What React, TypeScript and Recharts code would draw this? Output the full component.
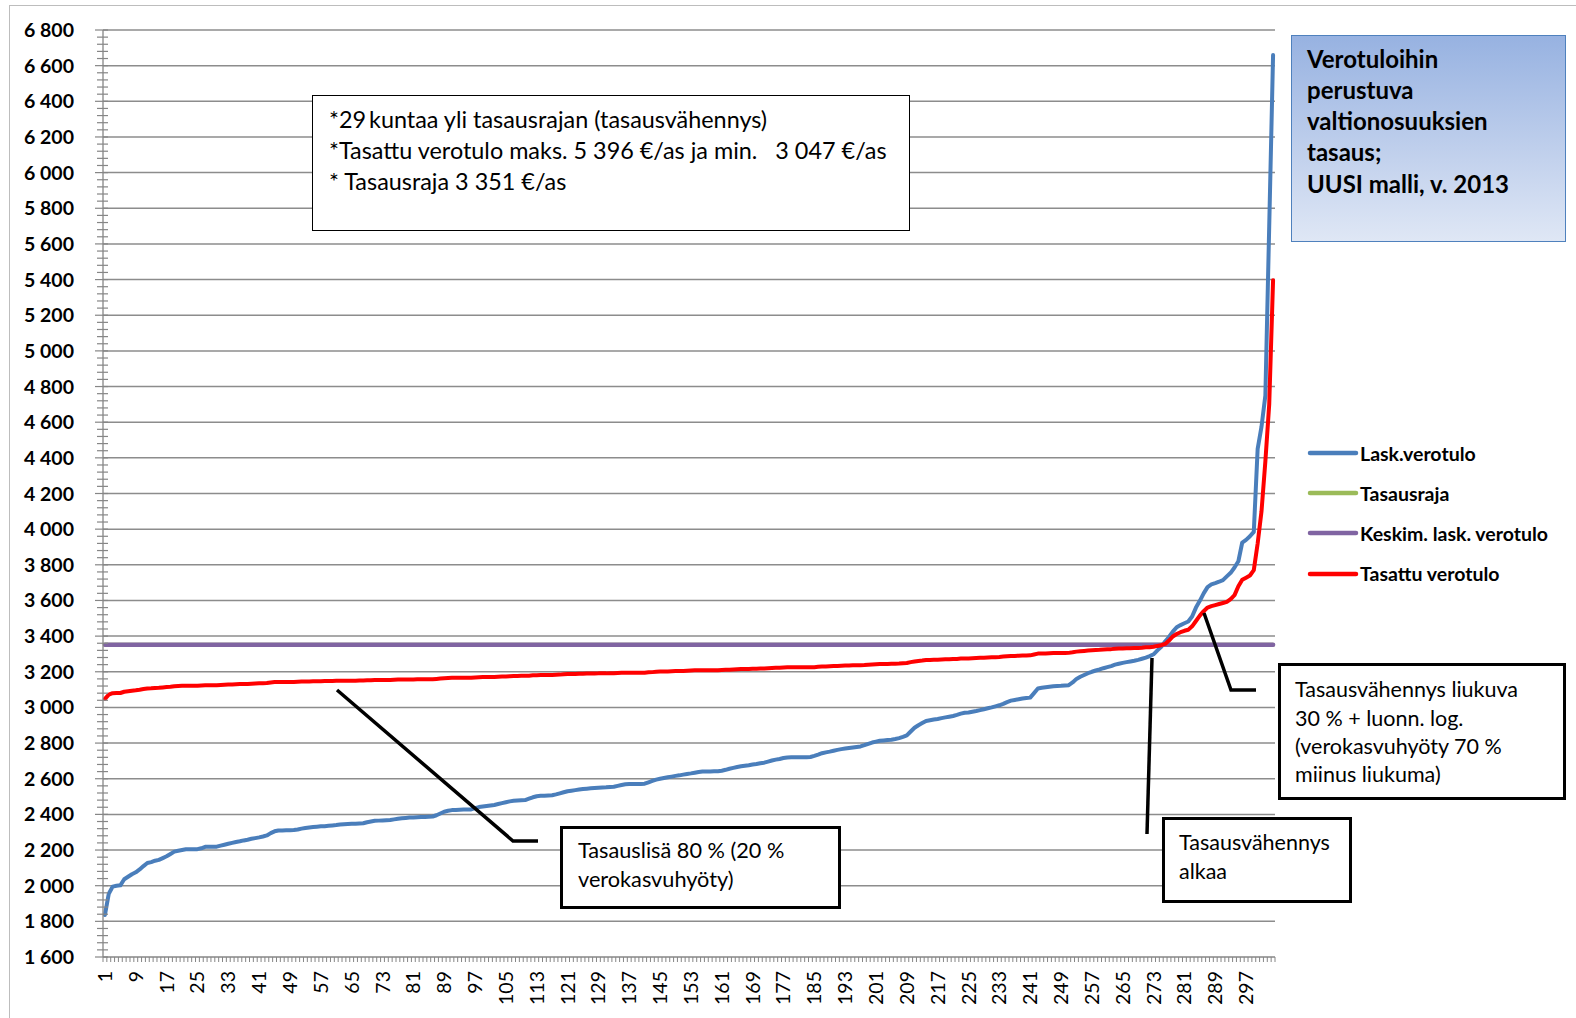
import React from 'react';
import { LineChart, Line, XAxis, YAxis, ReferenceLine } from 'recharts';

// ---------- data ----------
const CATEGORIES: number[] = Array.from({ length: 304 }, (_, i) => i + 1);

const LASK_VEROTULO: number[] = [
  1836, 1955, 1995, 2000, 2002, 2036, 2050, 2064, 2075, 2091,
  2110, 2127, 2132, 2140, 2145, 2155, 2165, 2178, 2191, 2196,
  2200, 2204, 2204, 2205, 2205, 2210, 2218, 2218, 2219, 2219,
  2225, 2230, 2235, 2240, 2245, 2249, 2254, 2258, 2263, 2267,
  2271, 2276, 2282, 2295, 2305, 2310, 2310, 2311, 2311, 2312,
  2315, 2320, 2324, 2327, 2329, 2331, 2333, 2334, 2336, 2338,
  2340, 2343, 2345, 2346, 2347, 2348, 2349, 2350, 2356, 2360,
  2364, 2365, 2366, 2367, 2368, 2372, 2375, 2378, 2380, 2382,
  2383, 2384, 2385, 2386, 2387, 2388, 2395, 2405, 2415, 2420,
  2424, 2425, 2426, 2427, 2428, 2428, 2435, 2441, 2444, 2447,
  2450, 2453, 2458, 2463, 2468, 2473, 2476, 2478, 2479, 2480,
  2488, 2496, 2502, 2504, 2505, 2506, 2507, 2512, 2518, 2524,
  2530, 2533, 2536, 2539, 2542, 2544, 2546, 2548, 2550, 2551,
  2552, 2554, 2555, 2560, 2565, 2569, 2570, 2570, 2571, 2571,
  2572, 2580, 2588, 2595, 2600, 2604, 2608, 2612, 2616, 2619,
  2623, 2627, 2630, 2634, 2638, 2641, 2641, 2641, 2642, 2642,
  2645, 2650, 2656, 2661, 2666, 2670, 2673, 2676, 2680, 2683,
  2687, 2690, 2696, 2702, 2707, 2711, 2716, 2719, 2720, 2720,
  2720, 2721, 2721, 2722, 2728, 2735, 2743, 2748, 2752, 2757,
  2762, 2766, 2769, 2772, 2775, 2778, 2781, 2788, 2796, 2803,
  2808, 2813, 2815, 2817, 2819, 2823, 2828, 2835, 2843, 2865,
  2886, 2900, 2912, 2924, 2928, 2932, 2935, 2940, 2944, 2948,
  2952, 2958, 2965, 2970, 2972, 2976, 2980, 2985, 2990, 2995,
  3000, 3006, 3012, 3020, 3030, 3038, 3042, 3046, 3050, 3053,
  3055, 3080, 3106, 3110, 3113, 3116, 3119, 3120, 3121, 3123,
  3125, 3140, 3160, 3172, 3182, 3192, 3200, 3207, 3213, 3220,
  3226, 3232, 3240, 3245, 3250, 3254, 3258, 3262, 3267, 3273,
  3279, 3288, 3298, 3320, 3340, 3370, 3395, 3425, 3450, 3462,
  3472, 3482, 3510, 3560, 3598, 3640, 3675, 3690, 3697, 3705,
  3714, 3735, 3755, 3785, 3820, 3925, 3940, 3960, 3985, 4450,
  4575, 4750, 5700, 6660,
];

const TASATTU_VEROTULO: number[] = [
  3048, 3072, 3080, 3081, 3081, 3088, 3091, 3094, 3096, 3099,
  3103, 3106, 3107, 3109, 3110, 3112, 3114, 3116, 3119, 3120,
  3121, 3122, 3122, 3122, 3122, 3123, 3124, 3124, 3125, 3125,
  3126, 3127, 3128, 3129, 3130, 3131, 3132, 3132, 3133, 3134,
  3135, 3136, 3137, 3140, 3142, 3143, 3143, 3143, 3143, 3143,
  3144, 3145, 3146, 3146, 3147, 3147, 3147, 3148, 3148, 3148,
  3149, 3149, 3150, 3150, 3150, 3150, 3151, 3151, 3152, 3153,
  3154, 3154, 3154, 3154, 3154, 3155, 3156, 3156, 3157, 3157,
  3157, 3158, 3158, 3158, 3158, 3158, 3160, 3162, 3164, 3165,
  3166, 3166, 3166, 3166, 3166, 3166, 3168, 3169, 3170, 3170,
  3171, 3171, 3172, 3173, 3174, 3175, 3176, 3176, 3177, 3177,
  3178, 3180, 3181, 3182, 3182, 3182, 3182, 3183, 3184, 3186,
  3187, 3187, 3188, 3189, 3189, 3190, 3190, 3190, 3191, 3191,
  3191, 3192, 3192, 3193, 3194, 3195, 3195, 3195, 3195, 3195,
  3195, 3197, 3198, 3200, 3201, 3202, 3202, 3203, 3204, 3205,
  3205, 3206, 3207, 3208, 3208, 3209, 3209, 3209, 3209, 3209,
  3210, 3211, 3212, 3213, 3214, 3215, 3215, 3216, 3217, 3217,
  3218, 3219, 3220, 3221, 3222, 3223, 3224, 3225, 3225, 3225,
  3225, 3225, 3225, 3225, 3226, 3228, 3229, 3230, 3231, 3232,
  3233, 3234, 3235, 3235, 3236, 3236, 3237, 3238, 3240, 3241,
  3242, 3243, 3244, 3244, 3245, 3245, 3246, 3248, 3249, 3254,
  3258, 3261, 3263, 3266, 3266, 3267, 3268, 3269, 3270, 3270,
  3271, 3272, 3274, 3275, 3275, 3276, 3277, 3278, 3279, 3280,
  3281, 3282, 3283, 3285, 3287, 3288, 3289, 3290, 3291, 3291,
  3292, 3297, 3302, 3303, 3303, 3304, 3305, 3305, 3305, 3305,
  3306, 3309, 3313, 3315, 3317, 3319, 3321, 3322, 3323, 3325,
  3326, 3327, 3329, 3330, 3331, 3332, 3332, 3333, 3334, 3335,
  3337, 3338, 3340, 3345, 3349, 3356, 3375, 3398, 3412, 3422,
  3430, 3436, 3455, 3485, 3515, 3540, 3560, 3568, 3574, 3580,
  3586, 3592, 3608, 3630, 3680, 3716, 3728, 3740, 3770, 3920,
  4100, 4380, 4700, 5396,
];

const TASAUSRAJA = 3351;
const KESKIM_LASK_VEROTULO = 3351;

const Y_MAJOR_TICKS: number[] = [
  1600, 1800, 2000, 2200, 2400, 2600, 2800, 3000, 3200, 3400, 3600, 3800, 4000, 4200,
  4400, 4600, 4800, 5000, 5200, 5400, 5600, 5800, 6000, 6200, 6400, 6600, 6800,
];
const Y_MINOR_STEP = 40;
const X_LABEL_EVERY = 8;

const SERIES = [
  { key: 'lask', name: 'Lask.verotulo', color: '#4A7EBB' },
  { key: 'raja', name: 'Tasausraja', color: '#9BBB59' },
  { key: 'keskim', name: 'Keskim. lask. verotulo', color: '#8064A2' },
  { key: 'tasattu', name: 'Tasattu verotulo', color: '#FF0000' },
];

const INFO_LINES = [
  '*29\u2009kuntaa yli tasausrajan (tasausvähennys)',
  '*Tasattu verotulo maks. 5 396 €/as ja min.   3 047 €/as',
  '* Tasausraja 3 351 €/as',
];
const TITLE_LINES = ['Verotuloihin', 'perustuva', 'valtionosuuksien', 'tasaus;', 'UUSI malli, v. 2013'];
const NOTE_LISA = ['Tasauslisä 80 % (20 %', 'verokasvuhyöty)'];
const NOTE_ALKAA = ['Tasausvähennys', 'alkaa'];
const NOTE_LIUKUVA = ['Tasausvähennys liukuva', '30 % + luonn. log.', '(verokasvuhyöty 70 %', 'miinus liukuma)'];

// ---------- table for recharts ----------
const rows = CATEGORIES.map((c, i) => ({
  cat: c,
  lask: LASK_VEROTULO[i],
  raja: TASAUSRAJA,
  keskim: KESKIM_LASK_VEROTULO,
  tasattu: TASATTU_VEROTULO[i],
}));

const Y_MIN = Y_MAJOR_TICKS[0];
const Y_MAX = Y_MAJOR_TICKS[Y_MAJOR_TICKS.length - 1];
const Y_ALL_TICKS: number[] = [];
for (let v = Y_MIN; v <= Y_MAX; v += Y_MINOR_STEP) Y_ALL_TICKS.push(v);

// ---------- layout ----------
const W = 1576;
const H = 1018;
const PLOT_LEFT = 103;
const PLOT_TOP = 30;
const PLOT_RIGHT = 1275;
const PLOT_BOTTOM = 957;
const BAND = (PLOT_RIGHT - PLOT_LEFT) / CATEGORIES.length;
const FONT = 'Lato, "Open Sans", sans-serif';
const AXIS_COLOR = '#868686';

const fmt = (v: number) =>
  v >= 1000 ? `${Math.floor(v / 1000)}\u00a0${String(v % 1000).padStart(3, '0')}` : String(v);

const YTick = (props: any) => {
  const { x, y, payload } = props;
  const v = payload.value;
  const major = v % 200 === 0;
  return (
    <g>
      <line x1={x - (major ? 8 : 6)} x2={x + 5} y1={y} y2={y} stroke={AXIS_COLOR} strokeWidth={1.2} />
      {major && (
        <text x={x - 29} y={y} dy="0.36em" textAnchor="end" fontFamily={FONT} fontWeight={700} fontSize={19.5} fill="#000">
          {fmt(v)}
        </text>
      )}
    </g>
  );
};

const XTick = (props: any) => {
  const { x, y, payload, index } = props;
  const v = payload.value;
  const bx = x - BAND / 2;
  const show = (v - 1) % X_LABEL_EVERY === 0;
  return (
    <g>
      <line x1={bx} x2={bx} y1={y} y2={y + 5} stroke={AXIS_COLOR} strokeWidth={1} />
      {index === CATEGORIES.length - 1 && (
        <line x1={x + BAND / 2} x2={x + BAND / 2} y1={y} y2={y + 5} stroke={AXIS_COLOR} strokeWidth={1} />
      )}
      {show && (
        <text
          transform={`translate(${x},${y + 14}) rotate(-90)`}
          dy="0.36em"
          textAnchor="end"
          fontFamily={FONT}
          fontSize={19.5}
          fill="#000"
        >
          {v}
        </text>
      )}
    </g>
  );
};

const box = (left: number, top: number, right: number, bottom: number, border: number): React.CSSProperties => ({
  position: 'absolute',
  left,
  top,
  width: right - left,
  height: bottom - top,
  boxSizing: 'border-box',
  border: `${border}px solid #000`,
  background: '#fff',
});

// first line centred on `c1`
const TextBlock = ({ lines, left, c1, lh, size, bold }: any) => (
  <div
    style={{
      position: 'absolute',
      left,
      top: c1 - lh / 2,
      lineHeight: `${lh}px`,
      fontSize: size,
      fontWeight: bold ? 700 : 400,
      fontFamily: FONT,
      color: '#000',
      whiteSpace: 'pre',
    }}
  >
    {lines.map((l: string, i: number) => (
      <div key={i}>{l}</div>
    ))}
  </div>
);

export default function App() {
  return (
    <div style={{ position: 'absolute', left: 0, top: 0, width: W, height: H, background: '#fff', overflow: 'hidden', fontFamily: FONT }}>
      <div
        style={{
          position: 'absolute',
          left: 9,
          top: 5,
          width: 1600,
          height: 1040,
          boxSizing: 'border-box',
          border: '1.5px solid #bdbdbd',
        }}
      />
      <div style={{ position: 'absolute', left: 0, top: 0 }}>
        <LineChart
          width={W}
          height={H}
          data={rows}
          margin={{ top: PLOT_TOP, right: W - PLOT_RIGHT, bottom: H - PLOT_BOTTOM - 61, left: PLOT_LEFT - 103 }}
        >
          <XAxis
            dataKey="cat"
            type="category"
            height={61}
            interval={0}
            tickSize={0}
            tickMargin={0}
            tickLine={false}
            tick={<XTick />}
            padding={{ left: BAND / 2, right: BAND / 2 }}
            axisLine={{ stroke: AXIS_COLOR, strokeWidth: 1.3 }}
          />
          <YAxis
            type="number"
            width={103}
            domain={[Y_MIN, Y_MAX]}
            ticks={Y_ALL_TICKS}
            interval={0}
            tickSize={0}
            tickMargin={0}
            tickLine={false}
            tick={<YTick />}
            allowDataOverflow
            axisLine={{ stroke: AXIS_COLOR, strokeWidth: 1.3 }}
          />
          {Y_MAJOR_TICKS.slice(1).map((v) => (
            <ReferenceLine key={v} y={v} stroke="#8c8c8c" strokeWidth={1.5} ifOverflow="visible" />
          ))}
          {SERIES.map((s) => (
            <Line
              key={s.key}
              dataKey={s.key}
              name={s.name}
              stroke={s.color}
              strokeWidth={s.key === 'keskim' ? 4.5 : 4}
              strokeLinecap="round"
              strokeLinejoin="round"
              dot={false}
              activeDot={false}
              isAnimationActive={false}
              type="linear"
            />
          ))}
        </LineChart>
      </div>

      {/* legend */}
      <div style={{ position: 'absolute', left: 1307, top: 433 }}>
        {SERIES.map((s) => (
          <div key={s.key} style={{ display: 'flex', alignItems: 'center', height: 40.2 }}>
            <svg width={52} height={10} style={{ display: 'block' }}>
              <line x1={3} x2={49} y1={5} y2={5} stroke={s.color} strokeWidth={4.5} strokeLinecap="round" />
            </svg>
            <span style={{ fontFamily: FONT, fontWeight: 700, fontSize: 19.5, color: '#000', marginLeft: 1 }}>{s.name}</span>
          </div>
        ))}
      </div>

      {/* title box */}
      <div
        style={{
          position: 'absolute',
          left: 1291,
          top: 35,
          width: 275,
          height: 207,
          boxSizing: 'border-box',
          border: '1.5px solid #4F81BD',
          background: 'linear-gradient(180deg, #97B2E1 0%, #BFCFEC 55%, #DFE7F5 100%)',
        }}
      />
      <TextBlock lines={TITLE_LINES} left={1307} c1={58.5} lh={31.15} size={24} bold />

      {/* info box */}
      <div style={box(312, 95, 910, 231, 1.5)} />
      <TextBlock lines={INFO_LINES} left={329} c1={119.6} lh={31.15} size={23.4} />

      {/* callout lines */}
      <svg width={W} height={H} style={{ position: 'absolute', left: 0, top: 0, pointerEvents: 'none' }}>
        <polyline points="337,690 513,841 538,841" fill="none" stroke="#000" strokeWidth={3.5} />
        <polyline points="1152,658 1147,834" fill="none" stroke="#000" strokeWidth={3.5} />
        <polyline points="1204,613 1231,690 1256,690" fill="none" stroke="#000" strokeWidth={3.5} />
      </svg>

      {/* note boxes */}
      <div style={box(560, 826, 841, 909, 3.5)} />
      <TextBlock lines={NOTE_LISA} left={578} c1={850.5} lh={29.2} size={21.7} />

      <div style={box(1162, 817, 1352, 903, 3.5)} />
      <TextBlock lines={NOTE_ALKAA} left={1179} c1={842.5} lh={28.1} size={21.5} />

      <div style={box(1278, 663, 1566, 800, 3.5)} />
      <TextBlock lines={NOTE_LIUKUVA} left={1295} c1={689.5} lh={28.1} size={21.5} />
    </div>
  );
}
